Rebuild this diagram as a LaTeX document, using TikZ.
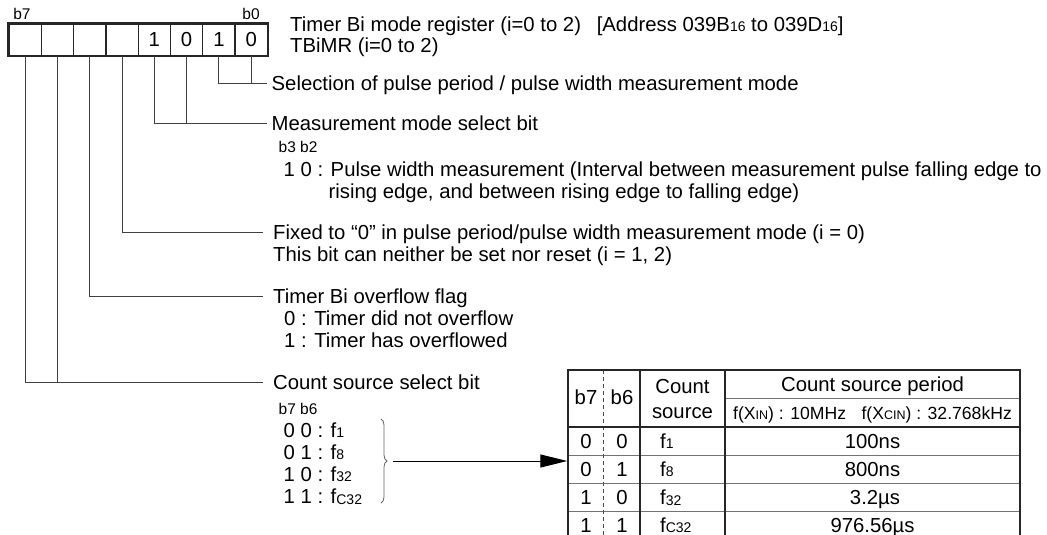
\documentclass[tikz,border=0pt]{standalone}
\usepackage{fontspec}
\setmainfont{Liberation Sans}
\usetikzlibrary{arrows.meta,decorations.pathreplacing}
\newcommand\lsub[1]{\raisebox{-0.02em}{\fontsize{14}{14}\selectfont #1}}
\newcommand\tsub[1]{\raisebox{-0.02em}{\fontsize{12.5}{12.5}\selectfont #1}}
\begin{document}
\begin{tikzpicture}[x=1pt,y=-1pt,
  txt/.style={anchor=west,inner sep=0pt,text height=14.5pt,text depth=0pt,font=\fontsize{20.3}{22}\selectfont},
  sml/.style={anchor=west,inner sep=0pt,text height=11pt,text depth=0pt,font=\fontsize{15.5}{17}\selectfont},
  ctxt/.style={txt,anchor=center},
  rtxt/.style={anchor=center,inner sep=0pt,text height=13pt,text depth=0pt,font=\fontsize{17.6}{20}\selectfont},
  cell/.style={draw=black!85,line width=1.3pt,minimum width=32.3pt,minimum height=31.7pt,inner sep=0pt,anchor=north west,font=\fontsize{20.3}{22}\selectfont},
  bitline/.style={draw=black!75,line width=0.9pt},
  grid/.style={draw=black!55,line width=0.9pt},
  frame/.style={draw=black!85,line width=2pt},
  sep/.style={draw=black!85,line width=1.4pt},
]
\useasboundingbox (0,0) rectangle (1047,535);
% register
\node[cell] (c7) at (8.3,23.3) {};
\node[cell] (c6) at (40.6,23.3) {};
\node[cell] (c5) at (72.9,23.3) {};
\node[cell] (c4) at (105.2,23.3) {};
\node[cell] (c3) at (137.5,23.3) {1};
\node[cell] (c2) at (169.8,23.3) {0};
\node[cell] (c1) at (202.1,23.3) {1};
\node[cell] (c0) at (234.4,23.3) {0};
\draw[line width=2pt,black!85] (c7.north west) rectangle (c0.south east);
\node[sml,anchor=center] (lb7) at (22,14) {b7};
\node[sml,anchor=center] (lb0) at (251,14) {b0};
% titles
\node[txt] (head1) at (290,24) {Timer Bi mode register (i=0 to 2)\hspace{0.5em} [Address 039B\lsub{16} to 039D\lsub{16}]};
\node[txt] (head2) at (290,45.5) {TBiMR (i=0 to 2)};
% descriptions
\node[txt] (sel) at (271.5,83.3) {Selection of pulse period / pulse width measurement mode};
\node[txt] (meas) at (271.5,123.3) {Measurement mode select bit};
\node[sml] (b32) at (278.5,147) {b3 b2};
\node[txt] (pw1) at (283.5,169) {1 0 : Pulse width measurement (Interval between measurement pulse falling edge to};
\node[txt] (pw2) at (328.5,191) {rising edge, and between rising edge to falling edge)};
\node[txt] (fix1) at (273,232.7) {Fixed to “0” in pulse period/pulse width measurement mode (i = 0)};
\node[txt] (fix2) at (273,253.8) {This bit can neither be set nor reset (i = 1, 2)};
\node[txt] (ovf) at (273,296.7) {Timer Bi overflow flag};
\node[txt] (ovf0) at (284,318.3) {0 : Timer did not overflow};
\node[txt] (ovf1) at (284,340) {1 : Timer has overflowed};
\node[txt] (cs) at (273,382) {Count source select bit};
\node[sml] (b76) at (278.5,408.5) {b7 b6};
\node[txt] (cs0) at (283.5,430) {0 0 : f\lsub{1}};
\node[txt] (cs1) at (283.5,452) {0 1 : f\lsub{8}};
\node[txt] (cs2) at (283.5,474.3) {1 0 : f\lsub{32}};
\node[txt] (cs3) at (283.5,496.7) {1 1 : f\lsub{C32}};
% bit lines
\draw[bitline] (c1.south) |- ([xshift=-4.5pt]sel.west);
\draw[bitline] (c0.south) -- (c0.south |- sel.west);
\draw[bitline] (c3.south) |- ([xshift=-4.5pt]meas.west);
\draw[bitline] (c2.south) -- (c2.south |- meas.west);
\draw[bitline] (c4.south) |- ([xshift=-10pt]fix1.west);
\draw[bitline] (c5.south) |- ([xshift=-10pt]ovf.west);
\draw[bitline] (c7.south) |- ([xshift=-10pt]cs.west);
\draw[bitline] (c6.south) -- (c6.south |- cs.west);
% brace and arrow
\draw[black!60,line width=0.8pt,decorate,decoration={brace,amplitude=6pt}] (381,419) -- (381,503);
\coordinate (brtip) at (393,461);
\coordinate (tblin) at (567.3,461);
\draw[black,line width=1pt,-{Triangle[length=27pt,width=13pt]}] (brtip) -- (tblin);
% table lines
\draw[grid] (568.3,455) -- (1020,455);
\draw[grid] (568.3,483.3) -- (1020,483.3);
\draw[grid] (568.3,511.7) -- (1020,511.7);
\draw[grid] (725,398.3) -- (1020,398.3);
\draw[black!70,line width=0.8pt,dash pattern=on 4pt off 3pt] (603.3,370) -- (603.3,535);
\draw[sep] (640,370) -- (640,535);
\draw[sep] (725,370) -- (725,535);
\draw[frame] (568.3,535) -- (568.3,370) -- (1020,370) -- (1020,535);
\draw[line width=2.4pt,black!85] (568.3,426.7) -- (1020,426.7);
% table header
\node[ctxt] (hb7) at (586,397) {b7};
\node[ctxt] (hb6) at (622,397) {b6};
\node[ctxt] (hcnt) at (682.5,386) {Count};
\node[ctxt] (hsrc) at (682.5,411) {source};
\node[ctxt] (hper) at (872.5,384.5) {Count source period};
\node[rtxt] (hfreq) at (872.5,412.5) {f(X\tsub{IN}) : 10MHz\hspace{0.6em} f(X\tsub{CIN}) : 32.768kHz};
% table rows
\node[ctxt] (r1a) at (586,441) {0};
\node[ctxt] (r1b) at (622,441) {0};
\node[txt] (r1c) at (660,441) {f\lsub{1}};
\node[ctxt] (r1d) at (872.5,441) {100ns};
\node[ctxt] (r2a) at (586,469.3) {0};
\node[ctxt] (r2b) at (622,469.3) {1};
\node[txt] (r2c) at (660,469.3) {f\lsub{8}};
\node[ctxt] (r2d) at (872.5,469.3) {800ns};
\node[ctxt] (r3a) at (586,497.6) {1};
\node[ctxt] (r3b) at (622,497.6) {0};
\node[txt] (r3c) at (660,497.6) {f\lsub{32}};
\node[ctxt] (r3d) at (875,497.6) {3.2µs};
\node[ctxt] (r4a) at (586,524.8) {1};
\node[ctxt] (r4b) at (622,524.8) {1};
\node[txt] (r4c) at (660,524.8) {f\lsub{C32}};
\node[ctxt] (r4d) at (872.5,524.8) {976.56µs};
\end{tikzpicture}
\end{document}
